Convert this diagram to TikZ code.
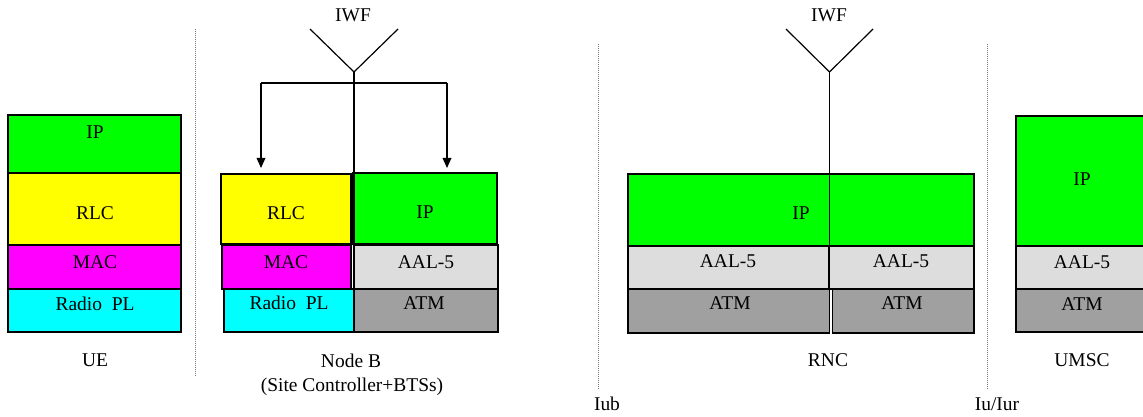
\documentclass[tikz,border=0pt]{standalone}
\usepackage{fontspec}
\setmainfont{Liberation Serif}
\usetikzlibrary{arrows.meta}
\definecolor{ipgreen}{RGB}{0,255,0}
\definecolor{rlcyellow}{RGB}{255,255,0}
\definecolor{macmagenta}{RGB}{255,0,255}
\definecolor{phycyan}{RGB}{0,255,255}
\definecolor{aalgray}{RGB}{221,221,221}
\definecolor{atmgray}{RGB}{160,160,160}
\definecolor{sepgray}{RGB}{120,120,120}
\newcommand\lyr[6]{\node[layerbox, fill=#6, minimum width={(#4-#2)*0.75pt}, minimum height={(#5-#3)*0.75pt}] (#1) at (#2,#3) {};}
\begin{document}
\begin{tikzpicture}[x=0.75pt,y=-0.75pt,
  layerbox/.style={draw=black, line width=0.9pt, inner sep=0pt, outer sep=0pt, anchor=north west},
  lbl/.style={font=\fontsize{14.6pt}{17pt}\selectfont, inner sep=0pt, anchor=base},
  wire/.style={draw=black, line width=0.9pt},
  arr/.style={wire, -{Triangle[length=7.5pt,width=6.5pt]}},
  sep/.style={draw=sepgray, line width=0.5pt, densely dotted}]
\useasboundingbox (0,0) rectangle (1143,417);
\clip (0,0) rectangle (1143,417);
% separators
\coordinate (s1t) at (195,29); \coordinate (s1b) at (195,376);
\coordinate (s2t) at (598,44); \coordinate (s2b) at (598,390);
\coordinate (s3t) at (987,44); \coordinate (s3b) at (987,390);
\draw[sep] (s1t) -- (s1b);
\draw[sep] (s2t) -- (s2b);
\draw[sep] (s3t) -- (s3b);
% UE
\lyr{ueip}{8}{115}{181}{173}{ipgreen}
\lyr{uerlc}{8}{173}{181}{245}{rlcyellow}
\lyr{uemac}{8}{245}{181}{289}{macmagenta}
\lyr{uephy}{8}{289}{181}{332}{phycyan}
\node[lbl] (tueip) at (95,138.5) {IP};
\node[lbl] (tuerlc) at (95,219.5) {RLC};
\node[lbl] (tuemac) at (95,268.5) {MAC};
\node[lbl] (tuephy) at (95,310.5) {Radio\ \ PL};
\node[lbl] (tue) at (95,366.5) {UE};
% Node B
\lyr{nbrlc}{221}{174}{351}{244}{rlcyellow}
\lyr{nbmac}{222}{245}{351}{289}{macmagenta}
\lyr{nbphy}{224}{289}{354}{332}{phycyan}
\lyr{nbip}{353}{173}{497}{244}{ipgreen}
\lyr{nbaal}{354}{245}{498}{289}{aalgray}
\lyr{nbatm}{354}{289}{498}{332}{atmgray}
\node[lbl] (tnbrlc) at (286,219.5) {RLC};
\node[lbl] (tnbmac) at (286,268.5) {MAC};
\node[lbl] (tnbphy) at (289,309.5) {Radio\ \ PL};
\node[lbl] (tnbip) at (425,218.5) {IP};
\node[lbl] (tnbaal) at (426,268.5) {AAL-5};
\node[lbl] (tnbatm) at (424,309.5) {ATM};
\node[lbl] (tnb) at (351,367.5) {Node B};
\node[lbl] (tnb2) at (352,391.5) {(Site Controller+BTSs)};
% IWF Node B
\node[lbl] (iwf1) at (353,21.5) {IWF};
\coordinate (v1l) at (310,29); \coordinate (v1r) at (398,29);
\coordinate (v1) at (354,72); \coordinate (v1b) at (354,333);
\coordinate (b1) at (354,83);
\coordinate (b1l) at (261,83); \coordinate (b1r) at (447,83);
\coordinate (a1l) at (261,168); \coordinate (a1r) at (447,168);
\draw[wire] (v1l) -- (v1) -- (v1r);
\draw[wire] (v1) -- (v1b);
\draw[wire] (b1l) -- (b1r);
\draw[arr] (b1l) -- (a1l);
\draw[arr] (b1r) -- (a1r);
% RNC
\lyr{rncip}{628}{174}{974}{246}{ipgreen}
\lyr{rncaal1}{628}{246}{829}{289}{aalgray}
\lyr{rncaal2}{829}{246}{974}{289}{aalgray}
\lyr{rncatm1}{628}{289}{829.5}{333}{atmgray}
\lyr{rncatm2}{832.5}{289}{974}{333}{atmgray}
\node[lbl] (trncip) at (801,219.5) {IP};
\node[lbl] (trncaal1) at (728,267.5) {AAL-5};
\node[lbl] (trncaal2) at (901,267.5) {AAL-5};
\node[lbl] (trncatm1) at (730,309.5) {ATM};
\node[lbl] (trncatm2) at (902,309.5) {ATM};
\node[lbl] (trnc) at (828,366.5) {RNC};
\node[lbl] (iwf2) at (829,21.5) {IWF};
\coordinate (v2l) at (786,29); \coordinate (v2r) at (873,29);
\coordinate (v2) at (829.5,72); \coordinate (v2b) at (829.5,333);
\draw[wire] (v2l) -- (v2) -- (v2r);
\draw[wire] (v2) -- (v2b);
% UMSC
\lyr{msip}{1016}{116}{1150}{246}{ipgreen}
\lyr{msaal}{1016}{246}{1150}{289}{aalgray}
\lyr{msatm}{1016}{289}{1150}{332}{atmgray}
\node[lbl] (tmsip) at (1082,185.5) {IP};
\node[lbl] (tmsaal) at (1082,268.5) {AAL-5};
\node[lbl] (tmsatm) at (1082,310.5) {ATM};
\node[lbl] (tms) at (1082,366.5) {UMSC};
% interface labels
\node[lbl] (tiub) at (607,410.5) {Iub};
\node[lbl] (tiu) at (997,410.5) {Iu/Iur};
\end{tikzpicture}
\end{document}
